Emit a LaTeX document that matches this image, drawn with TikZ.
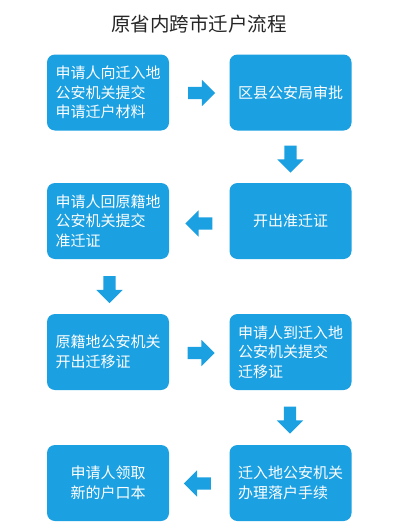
\documentclass[tikz,border=0pt]{standalone}
\usepackage{fontspec}
\setmainfont{Noto Sans CJK SC}
\usetikzlibrary{shapes.arrows}
\definecolor{boxblue}{RGB}{27,160,226}
\tikzset{
  flowbox/.style={fill=boxblue, draw=none, rounded corners=8pt, minimum width=122pt, minimum height=76pt,
    text=white, align=left, font=\fontsize{15pt}{19.5pt}\selectfont, inner sep=0pt},
  blockarrow/.style={single arrow, fill=boxblue, draw=none, inner sep=6pt,
    minimum height=27pt, single arrow head extend=7pt, single arrow head indent=0pt},
}
\begin{document}
\begin{tikzpicture}[x=1pt,y=-1pt]
\useasboundingbox[fill=white] (0,0) rectangle (400,530);
\node[font=\fontsize{19.5pt}{22pt}\selectfont, text=black!85] (title) at (199,24) {原省内跨市迁户流程};
\node[flowbox] (b1) at (108,92.5) {申请人向迁入地\\公安机关提交\\申请迁户材料};
\node[flowbox] (b2) at (290.5,92.5) {区县公安局审批};
\node[flowbox] (b3) at (290.5,221) {开出准迁证};
\node[flowbox] (b4) at (108,221) {申请人回原籍地\\公安机关提交\\准迁证};
\node[flowbox] (b5) at (108,352) {原籍地公安机关\\开出迁移证};
\node[flowbox] (b6) at (290.5,352) {申请人到迁入地\\公安机关提交\\迁移证};
\node[flowbox] (b7) at (290.5,483) {迁入地公安机关\\办理落户手续};
\node[flowbox] (b8) at (108,483) {申请人领取\\新的户口本};
\node[blockarrow] (a1) at (198.5,93) {};
\node[blockarrow, shape border rotate=270] (a2) at (290.5,156) {};
\node[blockarrow, shape border rotate=180] (a3) at (202,223.5) {};
\node[blockarrow, shape border rotate=270] (a4) at (109.5,286.5) {};
\node[blockarrow] (a5) at (198,353) {};
\node[blockarrow, shape border rotate=270] (a6) at (290,417) {};
\node[blockarrow, shape border rotate=180] (a7) at (200.5,483.5) {};
\end{tikzpicture}
\end{document}
